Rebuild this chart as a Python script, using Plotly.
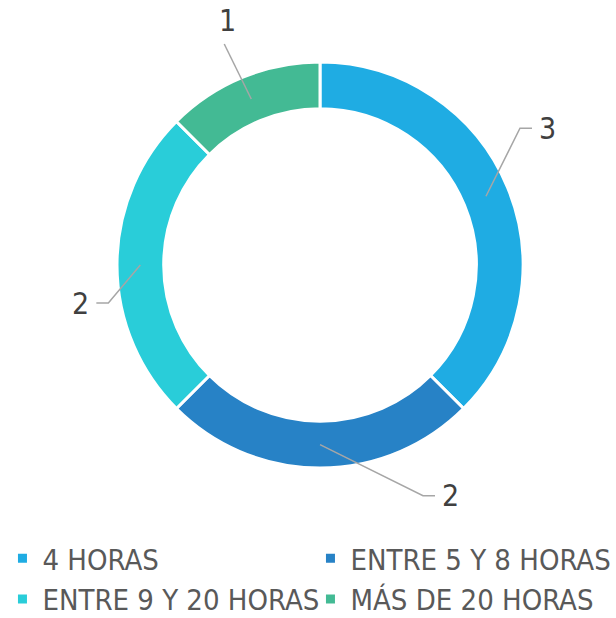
import math
import plotly.graph_objects as go

labels = ["4 HORAS", "ENTRE 5 Y 8 HORAS", "ENTRE 9 Y 20 HORAS", "MÁS DE 20 HORAS"]
values = [3, 2, 2, 1]
colors = ["#1FACE3", "#2782C6", "#29CDD9", "#43BA94"]

W, H = 616, 618
FONT = "DejaVu Sans Condensed, sans-serif"
TXT = "#595959"

# pie geometry in pixels
cx, cy, R, hole = 320, 265, 203, 0.77
r_mid = R * (1 + hole) / 2

# label leader styling: (elbow dx, elbow dy, horizontal len) relative to anchor
leader = [(34, -68, 12), (103, 51, 12), (-32, 38, -12), (-27, -55, 0)]

def px2paper(x, y):
    return x / W, 1 - y / H

fig = go.Figure(go.Pie(
    labels=labels, values=values, hole=hole, sort=False, direction="clockwise",
    rotation=0, marker=dict(colors=colors, line=dict(color="white", width=3)),
    textinfo="none", hoverinfo="label+value",
    domain=dict(x=[(cx - R) / W, (cx + R) / W], y=[1 - (cy + R) / H, 1 - (cy - R) / H]),
))

total = sum(values)
cum = 0
shapes, annotations = [], []
for v, (dx, dy, hl) in zip(values, leader):
    mid = (cum + v / 2) / total * 2 * math.pi
    cum += v
    ax = cx + r_mid * math.sin(mid)
    ay = cy - r_mid * math.cos(mid)
    ex, ey = ax + dx, ay + dy
    hx = ex + hl
    pts = [px2paper(ax, ay), px2paper(ex, ey), px2paper(hx, ey)]
    path = "M {} {} L {} {} L {} {}".format(*[c for p in pts for c in p])
    shapes.append(dict(type="path", path=path, xref="paper", yref="paper",
                       line=dict(color="#A6A6A6", width=1.5)))
    if hl > 0:
        tx, ty, xa, ya = hx + 5, ey, "left", "middle"
    elif hl < 0:
        tx, ty, xa, ya = hx - 5, ey, "right", "middle"
    else:
        tx, ty, xa, ya = ex + 3, ey - 4, "center", "bottom"
    px, py = px2paper(tx, ty)
    annotations.append(dict(x=px, y=py, xref="paper", yref="paper", text=str(v),
                            showarrow=False, xanchor=xa, yanchor=ya,
                            font=dict(family=FONT, size=30, color="#404040")))

fig.update_layout(
    width=W, height=H, margin=dict(l=0, r=0, t=0, b=0, autoexpand=False),
    paper_bgcolor="white", plot_bgcolor="white",
    shapes=shapes, annotations=annotations,
    legend=dict(orientation="h", x=0.004, y=1 - 579 / H, xanchor="left", yanchor="middle",
                entrywidth=0.5, entrywidthmode="fraction", traceorder="normal",
                font=dict(family=FONT, size=29, color=TXT), itemwidth=30,
                tracegroupgap=0),
    showlegend=True,
)

fig.write_html("out.html", config={"displayModeBar": False})
with open("out.html", encoding="utf-8") as f:
    html = f.read()
html = html.replace("<body>", '<body style="margin:0;padding:0;overflow:hidden">', 1)
with open("out.html", "w", encoding="utf-8") as f:
    f.write(html)
